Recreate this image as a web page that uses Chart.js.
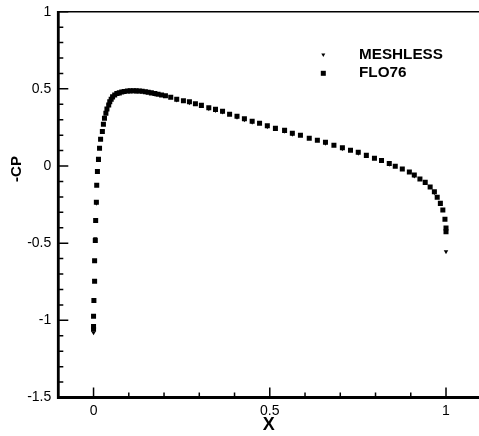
<!DOCTYPE html>
<html>
<head>
<meta charset="utf-8">
<script src="https://cdn.jsdelivr.net/npm/chart.js@4.4.0/dist/chart.umd.min.js"></script>
<style>
  html, body { margin: 0; padding: 0; background: #fff; overflow: hidden; }
  #wrap { width: 479px; height: 436px; }
  canvas { display: block; }
</style>
</head>
<body>
<div id="wrap"><canvas id="cpChart" width="479" height="436"></canvas></div>
<script>
// FLO76 points (x/c, -Cp), leading edge to trailing edge
const floX = [
  0, 0, 0, 0.001, 0.003, 0.003, 0.005, 0.006, 0.008, 0.009,
  0.011, 0.014, 0.017, 0.020, 0.025, 0.028, 0.031, 0.035, 0.038, 0.043,
  0.046, 0.050, 0.054, 0.060, 0.066, 0.073, 0.080, 0.087, 0.096, 0.104,
  0.113, 0.121, 0.130, 0.138, 0.147, 0.155, 0.164, 0.174, 0.183, 0.193,
  0.204, 0.219, 0.236, 0.255, 0.272, 0.289, 0.306, 0.327, 0.346, 0.366,
  0.386, 0.407, 0.428, 0.450, 0.471, 0.493, 0.516, 0.542, 0.564, 0.587,
  0.612, 0.635, 0.658, 0.682, 0.706, 0.729, 0.751, 0.774, 0.797, 0.817,
  0.839, 0.856, 0.876, 0.896, 0.910, 0.926, 0.941, 0.955, 0.967, 0.975,
  0.984, 0.991, 0.997, 1.0, 1.0
];
const floCp = [
  -1.057, -1.040, -0.974, -0.872, -0.747, -0.614, -0.482, -0.353, -0.235, -0.125,
  -0.036, 0.043, 0.115, 0.174, 0.224, 0.270, 0.309, 0.342, 0.369, 0.395,
  0.417, 0.432, 0.448, 0.460, 0.470, 0.474, 0.480, 0.483, 0.486, 0.487,
  0.488, 0.487, 0.486, 0.484, 0.482, 0.478, 0.474, 0.470, 0.465, 0.460,
  0.455, 0.445, 0.433, 0.423, 0.417, 0.404, 0.393, 0.378, 0.367, 0.355,
  0.335, 0.322, 0.307, 0.290, 0.277, 0.261, 0.244, 0.231, 0.212, 0.199,
  0.180, 0.167, 0.154, 0.134, 0.119, 0.102, 0.089, 0.069, 0.050, 0.036,
  0.017, -0.002, -0.019, -0.039, -0.058, -0.084, -0.106, -0.136, -0.167, -0.203,
  -0.242, -0.285, -0.345, -0.402, -0.426
];

// MESHLESS points, mostly hidden under the FLO76 squares
const meshX = [
  0, 0.003, 0.005, 0.008, 0.014, 0.025, 0.043, 0.073, 0.121, 0.174,
  0.236, 0.272, 0.327, 0.346, 0.366, 0.407, 0.428, 0.450, 0.493, 0.542,
  0.564, 0.658, 0.706, 0.751, 0.839, 0.910, 0.967, 1.0
];
const meshCp = [
  -1.08, -0.74, -0.47, -0.24, 0.045, 0.225, 0.393, 0.472, 0.485, 0.466,
  0.428, 0.410, 0.372, 0.361, 0.350, 0.316, 0.301, 0.285, 0.255, 0.226,
  0.206, 0.148, 0.113, 0.084, 0.012, -0.064, -0.172, -0.555
];

// ticks
const xTicks = [0, 0.5, 1];
const xMinor = [0.1, 0.2, 0.3, 0.4, 0.6, 0.7, 0.8, 0.9];
const yTicks = [-1.5, -1, -0.5, 0, 0.5, 1];
const yMinor = [-1.4, -1.3, -1.2, -1.1, -0.9, -0.8, -0.7, -0.6, -0.4, -0.3, -0.2, -0.1,
                0.1, 0.2, 0.3, 0.4, 0.6, 0.7, 0.8, 0.9];

const seriesNames = ['MESHLESS', 'FLO76'];
const xTitle = 'X';
const yTitle = '-CP';

const toPoints = (xs, ys) => xs.map((v, i) => ({ x: v, y: ys[i] }));

// eixos no estilo Tecplot: ticks para dentro, linha superior, legenda dentro do gráfico
const frame = {
  id: 'frame',
  afterDraw(chart) {
    const { ctx, chartArea: a, scales: { x, y } } = chart;
    ctx.save();
    ctx.strokeStyle = '#000';

    ctx.lineWidth = 1.5;
    ctx.beginPath();
    ctx.moveTo(a.left, a.top);
    ctx.lineTo(chart.width, a.top);
    ctx.stroke();

    ctx.lineWidth = 1.5;
    ctx.beginPath();
    xTicks.forEach((v) => { const p = x.getPixelForValue(v); ctx.moveTo(p, a.bottom); ctx.lineTo(p, a.bottom - 10); });
    xMinor.forEach((v) => { const p = x.getPixelForValue(v); ctx.moveTo(p, a.bottom); ctx.lineTo(p, a.bottom - 5); });
    yTicks.forEach((v) => { const p = y.getPixelForValue(v); ctx.moveTo(a.left, p); ctx.lineTo(a.left + 10, p); });
    yMinor.forEach((v) => { const p = y.getPixelForValue(v); ctx.moveTo(a.left, p); ctx.lineTo(a.left + 5, p); });
    ctx.stroke();

    ctx.lineWidth = 2.8;
    ctx.beginPath();
    ctx.moveTo(a.left, a.top - 0.7);
    ctx.lineTo(a.left, a.bottom);
    ctx.lineTo(chart.width, a.bottom);
    ctx.stroke();

    // título do eixo Y
    ctx.fillStyle = '#000';
    ctx.font = 'bold 15px "Liberation Sans", Arial, sans-serif';
    ctx.textAlign = 'center';
    ctx.textBaseline = 'middle';
    ctx.translate(17, 169);
    ctx.rotate(-Math.PI / 2);
    ctx.fillText(yTitle, 0, 0);
    ctx.restore();

    // legenda
    ctx.save();
    ctx.fillStyle = '#000';
    ctx.beginPath();
    ctx.moveTo(321.3, 53.5);
    ctx.lineTo(325.3, 53.5);
    ctx.lineTo(323.3, 57);
    ctx.closePath();
    ctx.fill();
    ctx.fillRect(320.8, 70.8, 5, 5);
    ctx.font = 'bold 14px "Liberation Sans", Arial, sans-serif';
    ctx.textAlign = 'left';
    ctx.textBaseline = 'alphabetic';
    ctx.translate(359, 0);
    ctx.scale(1.09, 1);
    ctx.fillText(seriesNames[0], 0, 59.3);
    ctx.fillText(seriesNames[1], 0, 77.3);
    ctx.restore();
  }
};

const ctx = document.getElementById('cpChart').getContext('2d');
new Chart(ctx, {
  type: 'scatter',
  data: {
    datasets: [
      {
        label: seriesNames[0],
        data: toPoints(meshX, meshCp),
        pointStyle: 'triangle',
        rotation: 180,
        radius: 2.6,
        backgroundColor: '#000',
        borderColor: '#000',
        borderWidth: 0,
        order: 1,
      },
      {
        label: seriesNames[1],
        data: toPoints(floX, floCp),
        pointStyle: 'rect',
        radius: 3.55,
        backgroundColor: '#000',
        borderColor: '#000',
        borderWidth: 0,
        order: 0,
      },
    ],
  },
  options: {
    responsive: false,
    animation: false,
    layout: { autoPadding: false, padding: { top: 11.7, right: 0, left: 0, bottom: 0 } },
    plugins: {
      legend: { display: false },
      tooltip: { enabled: false },
    },
    scales: {
      x: {
        type: 'linear',
        min: -0.1,
        max: 1.0936,
        afterBuildTicks: (s) => { s.ticks = xTicks.map((v) => ({ value: v })); },
        afterFit: (s) => { s.height = 38.5; s.paddingLeft = 0; s.paddingRight = 0; },
        grid: { display: false, drawTicks: false },
        border: { display: false },
        ticks: {
          color: '#000',
          font: { family: '"Liberation Sans", Arial, sans-serif', size: 14 },
          padding: 5,
          maxRotation: 0,
          autoSkip: false,
          callback: (v) => String(v),
        },
        title: {
          display: true,
          text: xTitle,
          color: '#000',
          font: { family: '"Liberation Sans", Arial, sans-serif', size: 18, weight: 'bold' },
          padding: { top: 0, bottom: 0 },
        },
      },
      y: {
        type: 'linear',
        min: -1.5,
        max: 1,
        afterBuildTicks: (s) => { s.ticks = yTicks.map((v) => ({ value: v })); },
        afterFit: (s) => { s.width = 58.3; s.paddingTop = 0; s.paddingBottom = 0; },
        grid: { display: false, drawTicks: false },
        border: { display: false },
        ticks: {
          color: '#000',
          font: { family: '"Liberation Sans", Arial, sans-serif', size: 14 },
          padding: 7,
          autoSkip: false,
          callback: (v) => String(v),
        },
      },
    },
  },
  plugins: [frame],
});
</script>
</body>
</html>
